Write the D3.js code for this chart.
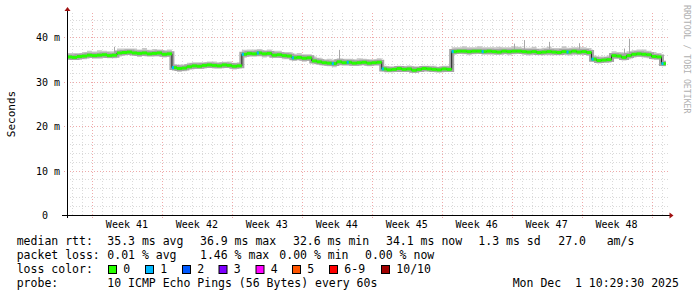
<!DOCTYPE html>
<html>
<head>
<meta charset="utf-8">
<script src="https://cdn.jsdelivr.net/npm/d3@7"></script>
<style>
  body { margin: 0; background: #fff; }
  svg text { font-family: "DejaVu Sans Mono", monospace; white-space: pre; }
</style>
</head>
<body>
<svg id="chart" width="697" height="297"></svg>
<script>
// one sample every 12 hours, starting Oct 2 2025 12:00
const startTime = Date.UTC(2025, 9, 2, 12);
const endTime = Date.UTC(2025, 11, 1, 18);
const nowTime = Date.UTC(2025, 11, 1, 10, 29, 30);
const stepMs = 12 * 3600 * 1000;

// median rtt in ms
const median = [
  35.6, 35.5, 35.7, 35.8, 36.0, 35.9, 36.0, 36.1, 35.9, 36.0,
  36.5, 36.6, 36.7, 36.5, 36.4, 36.5, 36.3, 36.4, 36.5, 36.2,
  36.3, 33.2, 33.0, 33.1, 33.4, 33.6, 33.5, 33.7, 33.8, 33.7,
  33.6, 33.8, 33.7, 33.5, 33.6, 36.2, 36.4, 36.3, 36.5, 36.3,
  36.4, 36.0, 36.1, 35.9, 35.8, 35.4, 35.5, 35.3, 35.4, 34.7,
  34.5, 34.3, 34.2, 34.1, 34.5, 34.3, 34.4, 34.2, 34.3, 34.4,
  34.2, 34.3, 34.4, 32.9, 32.7, 32.8, 33.0, 32.8, 32.9, 32.6,
  32.8, 33.0, 32.9, 32.8, 32.7, 32.9, 32.8, 36.8, 36.9, 36.9,
  36.8, 36.9, 36.9, 36.8, 36.9, 36.8, 36.7, 36.9, 36.8, 36.9,
  36.9, 36.8, 36.7, 36.8, 36.6, 36.7, 36.8, 36.7, 36.6, 36.8,
  36.7, 36.9, 36.7, 36.8, 36.6, 35.1, 34.8, 34.9, 35.0, 35.9,
  35.8, 35.5, 35.9, 36.2, 36.3, 36.2, 36.1, 35.7, 35.6, 34.1
];

// smoke spread above / below the median, ms
const smokeAbove = [
  0.9, 1.0, 0.8, 0.9, 1.0, 0.9, 1.1, 0.9, 1.0, 0.9,
  1.0, 0.9, 0.8, 1.0, 0.9, 1.1, 0.9, 1.0, 0.8, 0.9,
  1.0, 0.8, 0.9, 0.8, 0.9, 0.8, 0.9, 0.7, 0.8, 0.9,
  0.8, 0.7, 0.9, 0.8, 0.8, 1.0, 0.9, 1.0, 0.9, 0.8,
  0.9, 1.0, 0.9, 0.8, 0.9, 0.9, 1.0, 0.9, 0.8, 1.0,
  0.9, 0.8, 1.0, 0.9, 0.8, 0.9, 0.8, 0.9, 1.0, 0.8,
  0.9, 0.8, 0.9, 0.7, 0.8, 0.7, 0.6, 0.7, 0.8, 0.9,
  0.7, 0.6, 0.7, 0.8, 0.7, 0.7, 0.8, 1.0, 0.9, 1.1,
  1.0, 0.9, 1.1, 1.0, 0.9, 1.0, 1.2, 0.9, 1.0, 1.1,
  1.0, 0.9, 1.0, 1.1, 0.9, 1.0, 1.1, 0.9, 1.0, 1.2,
  1.0, 0.9, 1.1, 1.0, 1.0, 0.8, 0.9, 0.8, 0.9, 1.0,
  0.9, 1.1, 1.0, 0.9, 1.0, 1.1, 0.9, 1.0, 0.9, 0.7
];
const smokeBelow = [
  0.7, 0.6, 0.8, 0.7, 0.6, 0.7, 0.8, 0.7, 0.6, 0.7,
  0.8, 0.7, 0.6, 0.7, 0.8, 0.7, 0.6, 0.7, 0.8, 0.7,
  0.6, 0.7, 0.8, 0.7, 0.6, 0.7, 0.6, 0.7, 0.6, 0.7,
  0.6, 0.7, 0.6, 0.7, 0.6, 0.8, 0.7, 0.6, 0.7, 0.8,
  0.7, 0.6, 0.7, 0.8, 0.7, 0.7, 0.6, 0.8, 0.7, 0.6,
  0.7, 0.6, 0.7, 0.8, 0.7, 0.6, 0.7, 0.6, 0.7, 0.6,
  0.7, 0.6, 0.7, 0.6, 0.5, 0.6, 0.5, 0.6, 0.5, 0.6,
  0.6, 0.5, 0.6, 0.5, 0.6, 0.5, 0.6, 0.7, 0.6, 0.7,
  0.8, 0.7, 0.6, 0.7, 0.8, 0.7, 0.6, 0.7, 0.8, 0.7,
  0.6, 0.7, 0.8, 0.7, 0.6, 0.7, 0.8, 0.7, 0.6, 0.7,
  0.8, 0.7, 0.6, 0.7, 0.8, 0.6, 0.7, 0.6, 0.7, 0.7,
  0.6, 0.7, 0.8, 0.7, 0.6, 0.7, 0.8, 0.7, 0.6, 0.6
];

// samples with lost pings (index into median) and count lost
const lossIdx = [21, 35, 38, 45, 53, 56, 63, 77, 83, 100, 105, 119];
const lossCount = [1, 1, 1, 1, 1, 1, 1, 1, 1, 1, 1, 1];

// single high pings sticking out of the smoke
const spikeIdx = [9, 54, 89, 91, 96, 102, 111, 112];
const spikeTop = [37.9, 37.2, 38.6, 39.4, 39.0, 38.7, 37.5, 39.7];

const weekLabels = ['Week 41', 'Week 42', 'Week 43', 'Week 44', 'Week 45', 'Week 46', 'Week 47', 'Week 48'];
const yTicks = [0, 10, 20, 30, 40];
const yTickLabels = [' 0', '10 m', '20 m', '30 m', '40 m'];

const lossLabels = ['0', '1', '2', '3', '4', '5', '6-9', '10/10'];
const lossColors = ['#26ff00', '#00b8ff', '#0059ff', '#7e00ff', '#ff00ff', '#ff5500', '#ff0000', '#a10000'];

const svg = d3.select('#chart');
const x = d3.scaleUtc().domain([new Date(startTime), new Date(endTime)]).range([67, 669]);
const y = d3.scaleLinear().domain([0, 45.5]).range([215, 13]);
const plotTop = y.range()[1], plotBottom = y.range()[0];
const plotLeft = x.range()[0], plotRight = x.range()[1];

let tAt = i => new Date(i < median.length ? startTime + i * stepMs : nowTime);

// --- grid
let grid = svg.append('g');
let minorY = d3.range(2, 45.5, 2).filter(v => v % 10 !== 0);
grid.selectAll('.hmin').data(minorY).enter().append('line')
  .attr('x1', plotLeft).attr('x2', plotRight)
  .attr('y1', d => Math.round(y(d)) + 0.5).attr('y2', d => Math.round(y(d)) + 0.5)
  .attr('stroke', '#dadada').attr('stroke-dasharray', '1,2');
let days = d3.utcDay.range(new Date(startTime), new Date(endTime)).filter(d => d.getUTCDay() !== 0);
grid.selectAll('.vmin').data(days).enter().append('line')
  .attr('x1', d => Math.round(x(d)) + 0.5).attr('x2', d => Math.round(x(d)) + 0.5)
  .attr('y1', plotTop).attr('y2', plotBottom)
  .attr('stroke', '#dadada').attr('stroke-dasharray', '1,2');
grid.selectAll('.hmaj').data(yTicks.slice(1)).enter().append('line')
  .attr('x1', plotLeft - 3).attr('x2', plotRight)
  .attr('y1', d => Math.round(y(d)) + 0.5).attr('y2', d => Math.round(y(d)) + 0.5)
  .attr('stroke', '#eeaaaa').attr('stroke-dasharray', '1,2');
let sundays = d3.utcSunday.range(new Date(startTime), new Date(endTime));
grid.selectAll('.vmaj').data(sundays).enter().append('line')
  .attr('x1', d => Math.round(x(d)) + 0.5).attr('x2', d => Math.round(x(d)) + 0.5)
  .attr('y1', plotTop).attr('y2', plotBottom + 3)
  .attr('stroke', '#eeaaaa').attr('stroke-dasharray', '1,2');

// --- smoke
let idx = d3.range(median.length + 1);
let val = i => i < median.length ? i : median.length - 1;
let smoke = d3.area()
  .x(i => x(tAt(i)))
  .y0(i => y(median[val(i)] - smokeBelow[val(i)]))
  .y1(i => y(median[val(i)] + smokeAbove[val(i)]))
  .curve(d3.curveStepAfter);
svg.append('path').attr('d', smoke(idx)).attr('fill', '#c8c8c8');

svg.selectAll('.spike').data(spikeIdx).enter().append('line')
  .attr('x1', d => Math.round(x(tAt(d))) + 2.5).attr('x2', d => Math.round(x(tAt(d))) + 2.5)
  .attr('y1', d => y(median[d]))
  .attr('y2', (d, i) => y(spikeTop[i]))
  .attr('stroke', '#a8a8a8').attr('stroke-width', 1);

// --- median line
let medLine = d3.line()
  .x(i => x(tAt(i)))
  .y(i => y(median[val(i)]))
  .curve(d3.curveStepAfter);
svg.append('path').attr('d', medLine(idx)).attr('fill', 'none')
  .attr('stroke', '#a4a4a4').attr('stroke-width', 5);
svg.append('path').attr('d', medLine(idx)).attr('fill', 'none')
  .attr('stroke', '#222').attr('stroke-width', 1);
svg.selectAll('.seg').data(d3.range(median.length)).enter().append('line')
  .attr('x1', i => x(tAt(i))).attr('x2', i => x(tAt(i + 1)))
  .attr('y1', i => y(median[i])).attr('y2', i => y(median[i]))
  .attr('stroke', lossColors[0]).attr('stroke-width', 3);
svg.selectAll('.loss').data(lossIdx).enter().append('line')
  .attr('x1', d => x(tAt(d))).attr('x2', d => x(tAt(d)) + 2)
  .attr('y1', d => y(median[d])).attr('y2', d => y(median[d]))
  .attr('stroke', (d, i) => lossColors[lossCount[i]]).attr('stroke-width', 3);

// --- axes
let axis = svg.append('g');
axis.append('line').attr('x1', plotLeft - 5).attr('x2', plotRight + 1)
  .attr('y1', plotBottom + 0.5).attr('y2', plotBottom + 0.5).attr('stroke', '#000');
axis.append('line').attr('x1', plotLeft + 0.5).attr('x2', plotLeft + 0.5)
  .attr('y1', plotBottom + 3).attr('y2', plotTop - 2).attr('stroke', '#000');
axis.append('path').attr('d', `M${plotRight + 0.5},${plotBottom - 2.5}L${plotRight + 4.5},${plotBottom + 0.5}L${plotRight + 0.5},${plotBottom + 3.5}Z`)
  .attr('fill', '#a01010');
axis.append('path').attr('d', `M${plotLeft - 2.5},${plotTop - 2}L${plotLeft + 0.5},${plotTop - 6}L${plotLeft + 3.5},${plotTop - 2}Z`)
  .attr('fill', '#a01010');

axis.selectAll('.ylab').data(yTicks).enter().append('text')
  .attr('x', 36).attr('y', d => y(d) + 4)
  .attr('font-size', '10px').attr('fill', '#000')
  .text((d, i) => yTickLabels[i]);

axis.selectAll('.xlab').data(sundays.slice(0, weekLabels.length)).enter().append('text')
  .attr('x', d => x(d3.utcHour.offset(d, 84)))
  .attr('y', 228)
  .attr('text-anchor', 'middle')
  .attr('font-size', '10px').attr('fill', '#000')
  .text((d, i) => weekLabels[i]);

svg.append('text')
  .attr('transform', 'translate(15,114) rotate(-90)')
  .attr('text-anchor', 'middle')
  .attr('font-size', '11px').attr('fill', '#000')
  .text('Seconds');

svg.append('text')
  .attr('transform', 'translate(684,5) rotate(90)')
  .attr('font-size', '8.2px').attr('fill', '#b0b0b0')
  .text('RRDTOOL / TOBI OETIKER');

// --- legend
let legend = svg.append('g').attr('font-size', '11.5px').attr('fill', '#000');
let rows = [
  [[16.7, 'median rtt:'], [107.3, '35.3 ms avg'], [200, '36.9 ms max'], [293, '32.6 ms min'],
   [386, '34.1 ms now'], [478.3, '1.3 ms sd'], [558.3, '27.0'], [606.7, 'am/s']],
  [[16.7, 'packet loss:'], [107.3, '0.01 % avg'], [200, '1.46 % max'], [279.3, '0.00 % min'], [365, '0.00 % now']],
  [[16.7, 'loss color:']],
  [[16.7, 'probe:'], [107.3, '10 ICMP Echo Pings (56 Bytes) every 60s'], [512.7, 'Mon Dec  1 10:29:30 2025']]
];
rows.forEach((row, r) => {
  row.forEach(([px, txt]) => {
    legend.append('text').attr('x', px).attr('y', 245 + r * 14).text(txt);
  });
});

let boxX = [108.5, 145.5, 182.5, 219, 256, 292.5, 329.5, 381.5];
lossLabels.forEach((lab, i) => {
  legend.append('rect')
    .attr('x', boxX[i]).attr('y', 265.5).attr('width', 8).attr('height', 8)
    .attr('fill', lossColors[i]).attr('stroke', '#000').attr('stroke-width', 1);
  legend.append('text').attr('x', boxX[i] + 14.8).attr('y', 273).text(lab);
});
</script>
</body>
</html>
